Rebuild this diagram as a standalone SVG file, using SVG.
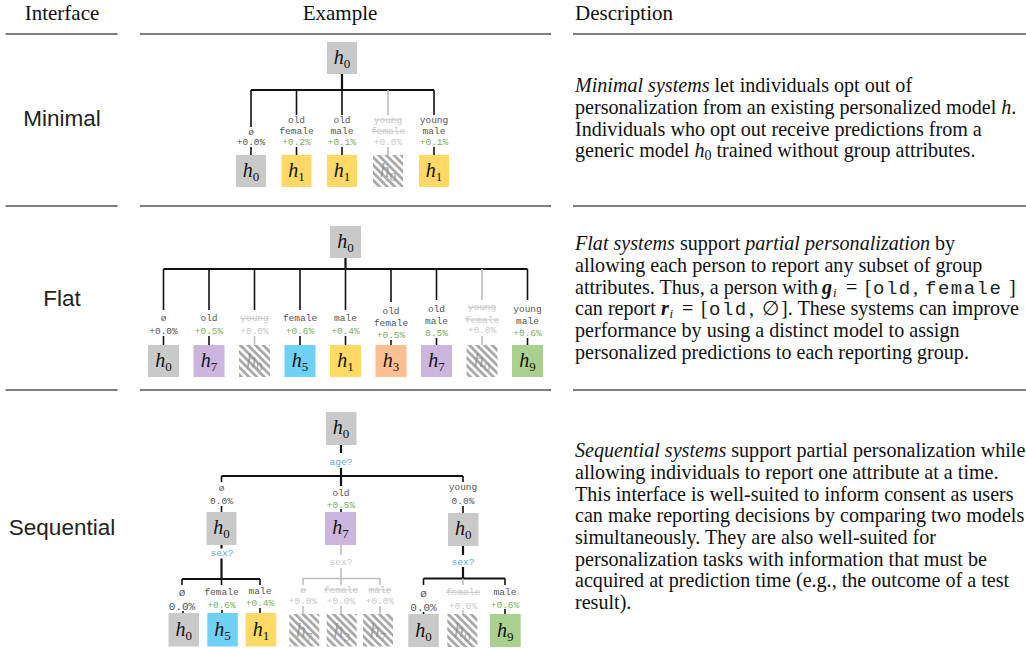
<svg xmlns="http://www.w3.org/2000/svg" width="1026" height="648" viewBox="0 0 1026 648">
<defs>
<pattern id="hatch" patternUnits="userSpaceOnUse" width="5.4" height="5.4" patternTransform="rotate(-45)">
<rect width="5.4" height="5.4" fill="#fff"/>
<rect width="2.8" height="5.4" fill="#a8a8a8"/>
</pattern>
<style>
.hd{font-family:"Liberation Serif","Times New Roman",serif;font-size:21px;fill:#111}
.rl{stroke:#555;stroke-width:1.3}
.rn{font-family:"Liberation Sans",Arial,sans-serif;font-size:22.5px;fill:#222;text-anchor:middle}
.ds{font-family:"Liberation Serif","Times New Roman",serif;font-size:20.1px;fill:#111}
.tt{font-family:"Liberation Mono","Courier New",monospace;font-size:19px;letter-spacing:1.5px;fill:#222}
.g0{fill:#c9c9c9}.yl{fill:#ffd966}.pu{fill:#cdb6de}.bl{fill:#6fd1f6}.or{fill:#fcbf91}.gn{fill:#a9d08e}.ht{fill:url(#hatch)}
.m{font-family:"Liberation Serif","Times New Roman",serif;font-style:italic;font-size:20px;fill:#111;text-anchor:middle}
.mf{font-family:"Liberation Serif","Times New Roman",serif;font-style:italic;font-size:20px;fill:#8a8a8a;opacity:.75;text-anchor:middle}
.s{font-style:normal;font-size:13px}
.lb{font-family:"Liberation Mono","Courier New",monospace;font-size:9.5px;fill:#555;text-anchor:middle}
.lb2{font-size:11px}
.pg{fill:#7cae5e}.pl{fill:#c8c8c8}.x{fill:#c8c8c8;text-decoration:line-through}.q{fill:#5ba7df}.qg{fill:#c8c8c8}
.k{stroke:#111;stroke-width:1.6;fill:none}
.kt{stroke:#111;stroke-width:2.2;fill:none}
.kg{stroke:#bdbdbd;stroke-width:1.6;fill:none}
.bi{font-style:italic;font-weight:bold}
.sb{font-style:italic;font-size:13px}
</style>
</defs>
<rect width="1026" height="648" fill="#fff"/>

<g id="table">
<text class="hd" x="62" y="20" text-anchor="middle">Interface</text>
<text class="hd" x="340" y="20" text-anchor="middle">Example</text>
<text class="hd" x="575" y="20">Description</text>
<path class="rl" d="M5.5 34H117.5M140 34H551M573 34H1026M5.5 206H117.5M140 206H551M573 206H1026M5.5 390H117.5M140 390H551M573 390H1026"/>
<text class="rn" x="62" y="126">Minimal</text>
<text class="rn" x="62" y="306">Flat</text>
<text class="rn" x="62" y="535">Sequential</text>
</g>

<g id="connectors">
<path class="kt" d="M342 74V90M251 90H434"/>
<path class="k" d="M251 90V127M296.5 90V115M342 90V115M434 90V115M251 147V155M296.5 147V155M342 147V155M434 147V155"/>
<path class="kg" d="M388 90V115M388 147V155"/>
<path class="kt" d="M345.5 258V269M163.5 269H527.5"/>
<path class="k" d="M163.5 269V310M209 269V310M254.5 269V310M300 269V310M345.5 269V310M391 269V302M436.5 269V300M527.5 269V300M163.5 336V345M209 336V345M300 336V345M345.5 336V345M391 340V345M436.5 338V345M527.5 338V345"/>
<path class="kg" d="M482 269V300M482 336V345M254.5 336V345"/>
<path class="kt" d="M341 445V453M341 468V486M221.5 476H463"/>
<path class="k" d="M221.5 476V482M463 476V482M221.5 506V512M341 509V512M463 506V513"/>
<path class="kt" d="M221.5 545V548.5M221.5 558.5V579M182 579H260"/>
<path class="k" d="M182 579V585M221.5 579V585M260 579V585M183 611V613M222 610V613M260 608V613"/>
<path class="kg" d="M341 545V555M341 568V578.5M303 578.5H380M303 578.5V585M341 578.5V585M380 578.5V585M303 606V614M341 606V614M380 606V614"/>
<path class="kt" d="M463 546V555M463 567V578.5M423.5 578.5H505"/>
<path class="k" d="M423.5 578.5V585M505 578.5V585M505 609V614M423.5 612V614"/>
<path class="kg" d="M463 578.5V585M463 610V614"/>
</g>

<g id="min-root"><rect class="g0" x="327" y="42" width="30" height="32"/><text class="m" x="342" y="64">h<tspan class="s" dy="4">0</tspan></text></g>
<g id="min-c1"><text class="lb" x="251" y="134.5">ø</text><text class="lb" x="251" y="145">+0.0%</text><rect class="g0" x="236" y="155" width="30" height="32"/><text class="m" x="251" y="177">h<tspan class="s" dy="4">0</tspan></text></g>
<g id="min-c2"><text class="lb" x="296.5" y="122.5">old</text><text class="lb" x="296.5" y="134">female</text><text class="lb pg" x="296.5" y="145">+0.2%</text><rect class="yl" x="281.5" y="155" width="30" height="32"/><text class="m" x="296.5" y="177">h<tspan class="s" dy="4">1</tspan></text></g>
<g id="min-c3"><text class="lb" x="342" y="122.5">old</text><text class="lb" x="342" y="134">male</text><text class="lb pg" x="342" y="145">+0.1%</text><rect class="yl" x="327" y="155" width="30" height="32"/><text class="m" x="342" y="177">h<tspan class="s" dy="4">1</tspan></text></g>
<g id="min-c4"><text class="lb x" x="388" y="122.5">young</text><text class="lb x" x="388" y="134">female</text><text class="lb pl" x="388" y="145">+0.0%</text><rect class="ht" x="373" y="155" width="30" height="32"/><text class="mf" x="388" y="177">h<tspan class="s" dy="4">0</tspan></text></g>
<g id="min-c5"><text class="lb" x="434" y="122.5">young</text><text class="lb" x="434" y="134">male</text><text class="lb pg" x="434" y="145">+0.1%</text><rect class="yl" x="419" y="155" width="30" height="32"/><text class="m" x="434" y="177">h<tspan class="s" dy="4">1</tspan></text></g>

<g id="flat-root"><rect class="g0" x="330" y="226" width="31" height="32"/><text class="m" x="345.5" y="248">h<tspan class="s" dy="4">0</tspan></text></g>
<g id="flat-c1"><text class="lb" x="163.5" y="321">ø</text><text class="lb" x="163.5" y="333.5">+0.0%</text><rect class="g0" x="148" y="345" width="31" height="32"/><text class="m" x="163.5" y="367">h<tspan class="s" dy="4">0</tspan></text></g>
<g id="flat-c2"><text class="lb" x="209" y="321">old</text><text class="lb pg" x="209" y="333.5">+0.5%</text><rect class="pu" x="193.5" y="345" width="31" height="32"/><text class="m" x="209" y="367">h<tspan class="s" dy="4">7</tspan></text></g>
<g id="flat-c3"><text class="lb x" x="254.5" y="321">young</text><text class="lb pl" x="254.5" y="333.5">+0.0%</text><rect class="ht" x="239" y="345" width="31" height="32"/><text class="mf" x="254.5" y="367">h<tspan class="s" dy="4">0</tspan></text></g>
<g id="flat-c4"><text class="lb" x="300" y="321">female</text><text class="lb pg" x="300" y="333.5">+0.6%</text><rect class="bl" x="284.5" y="345" width="31" height="32"/><text class="m" x="300" y="367">h<tspan class="s" dy="4">5</tspan></text></g>
<g id="flat-c5"><text class="lb" x="345.5" y="321">male</text><text class="lb pg" x="345.5" y="333.5">+0.4%</text><rect class="yl" x="330" y="345" width="31" height="32"/><text class="m" x="345.5" y="367">h<tspan class="s" dy="4">1</tspan></text></g>
<g id="flat-c6"><text class="lb" x="391" y="313.5">old</text><text class="lb" x="391" y="326">female</text><text class="lb pg" x="391" y="338">+0.5%</text><rect class="or" x="375.5" y="345" width="31" height="32"/><text class="m" x="391" y="367">h<tspan class="s" dy="4">3</tspan></text></g>
<g id="flat-c7"><text class="lb" x="436.5" y="311.5">old</text><text class="lb" x="436.5" y="324">male</text><text class="lb pg" x="436.5" y="336">0.5%</text><rect class="pu" x="421" y="345" width="31" height="32"/><text class="m" x="436.5" y="367">h<tspan class="s" dy="4">7</tspan></text></g>
<g id="flat-c8"><text class="lb x" x="482" y="310">young</text><text class="lb x" x="482" y="322.5">female</text><text class="lb pl" x="482" y="333">+0.0%</text><rect class="ht" x="466.5" y="345" width="31" height="32"/><text class="mf" x="482" y="367">h<tspan class="s" dy="4">0</tspan></text></g>
<g id="flat-c9"><text class="lb" x="527.5" y="311.5">young</text><text class="lb" x="527.5" y="324">male</text><text class="lb pg" x="527.5" y="336">+0.6%</text><rect class="gn" x="512" y="345" width="31" height="32"/><text class="m" x="527.5" y="367">h<tspan class="s" dy="4">9</tspan></text></g>

<g id="seq-root"><rect class="g0" x="326" y="412" width="30.5" height="33"/><text class="m" x="341" y="434">h<tspan class="s" dy="4">0</tspan></text><text class="lb q" x="341" y="464.5">age?</text></g>
<g id="seq-none"><text class="lb" x="221.5" y="490.5">ø</text><text class="lb" x="221.5" y="503.5">0.0%</text><rect class="g0" x="206.5" y="512" width="30" height="33"/><text class="m" x="221.5" y="534">h<tspan class="s" dy="4">0</tspan></text><text class="lb q" x="222" y="555.5">sex?</text></g>
<g id="seq-old"><text class="lb" x="341" y="495.5">old</text><text class="lb pg" x="341" y="507.5">+0.5%</text><rect class="pu" x="325" y="512" width="31" height="33"/><text class="m" x="340.5" y="534">h<tspan class="s" dy="4">7</tspan></text><text class="lb qg" x="341" y="565">sex?</text></g>
<g id="seq-young"><text class="lb" x="463" y="490">young</text><text class="lb" x="463" y="503.5">0.0%</text><rect class="g0" x="448" y="513" width="30.5" height="33"/><text class="m" x="463.3" y="535">h<tspan class="s" dy="4">0</tspan></text><text class="lb q" x="463" y="564.5">sex?</text></g>

<g id="seq-n-none"><text class="lb lb2" x="182" y="595.5">ø</text><text class="lb lb2" x="182" y="609.5">0.0%</text><rect class="g0" x="168.5" y="613" width="30.5" height="33.5"/><text class="m" x="183.7" y="636">h<tspan class="s" dy="4">0</tspan></text></g>
<g id="seq-n-female"><text class="lb" x="221.5" y="595">female</text><text class="lb pg" x="221.5" y="608.4">+0.6%</text><rect class="bl" x="207.3" y="613" width="30.5" height="33.5"/><text class="m" x="222.5" y="636">h<tspan class="s" dy="4">5</tspan></text></g>
<g id="seq-n-male"><text class="lb" x="260" y="594">male</text><text class="lb pg" x="260" y="606.1">+0.4%</text><rect class="yl" x="245.7" y="613" width="30.5" height="33.5"/><text class="m" x="261" y="636">h<tspan class="s" dy="4">1</tspan></text></g>

<g id="seq-o-none"><text class="lb x" x="303" y="592.5">ø</text><text class="lb pl" x="303" y="604">+0.0%</text><rect class="ht" x="289.3" y="614" width="30" height="32.5"/><text class="mf" x="304.3" y="637">h<tspan class="s" dy="4">7</tspan></text></g>
<g id="seq-o-female"><text class="lb x" x="341" y="592.5">female</text><text class="lb pl" x="341" y="604">+0.0%</text><rect class="ht" x="326.7" y="614" width="30" height="32.5"/><text class="mf" x="341.7" y="637">h<tspan class="s" dy="4">3</tspan></text></g>
<g id="seq-o-male"><text class="lb x" x="380" y="592.5">male</text><text class="lb pl" x="380" y="604">+0.0%</text><rect class="ht" x="363" y="614" width="30" height="32.5"/><text class="mf" x="378" y="637">h<tspan class="s" dy="4">7</tspan></text></g>

<g id="seq-y-none"><text class="lb lb2" x="423.5" y="596.5">ø</text><text class="lb lb2" x="423.5" y="611">0.0%</text><rect class="g0" x="408.3" y="614" width="30.5" height="33"/><text class="m" x="423.6" y="637">h<tspan class="s" dy="4">0</tspan></text></g>
<g id="seq-y-female"><text class="lb x" x="463" y="595">female</text><text class="lb pl" x="463" y="608.5">+0.0%</text><rect class="ht" x="447.3" y="614" width="30" height="33"/><text class="mf" x="462.3" y="637">h<tspan class="s" dy="4">0</tspan></text></g>
<g id="seq-y-male"><text class="lb" x="505" y="594.5">male</text><text class="lb pg" x="505" y="607.5">+0.6%</text><rect class="gn" x="490" y="614" width="30.7" height="33"/><text class="m" x="505.3" y="637">h<tspan class="s" dy="4">9</tspan></text></g>

<g id="desc-minimal">
<text class="ds" x="575" y="92"><tspan font-style="italic">Minimal systems</tspan> let individuals opt out of</text>
<text class="ds" x="575" y="114">personalization from an existing personalized model <tspan font-style="italic">h</tspan>.</text>
<text class="ds" x="575" y="135.5">Individuals who opt out receive predictions from a</text>
<text class="ds" x="575" y="157">generic model <tspan font-style="italic">h</tspan><tspan font-size="14" dy="3">0</tspan><tspan dy="-3"> trained without group attributes.</tspan></text>
</g>
<g id="desc-flat">
<text class="ds" x="575" y="250"><tspan font-style="italic">Flat systems</tspan> support <tspan font-style="italic">partial personalization</tspan> by</text>
<text class="ds" x="575" y="272">allowing each person to report any subset of group</text>
<text class="ds" x="575" y="293.5">attributes. Thus, a person with<tspan class="bi" x="822">g</tspan><tspan class="sb" x="833" dy="3">i</tspan><tspan x="846" dy="-3">=</tspan><tspan x="865">[</tspan><tspan class="tt" x="873">old</tspan><tspan x="913">,</tspan><tspan class="tt" x="925">female</tspan><tspan x="1009">]</tspan></text>
<text class="ds" x="575" y="315">can report<tspan class="bi" x="661">r</tspan><tspan class="sb" x="669.5" dy="3">i</tspan><tspan x="682" dy="-3">=</tspan><tspan x="701">[</tspan><tspan class="tt" x="709">old</tspan><tspan x="749">,</tspan><tspan x="762">∅</tspan><tspan x="781">]. These systems can improve</tspan></text>
<text class="ds" x="575" y="337">performance by using a distinct model to assign</text>
<text class="ds" x="575" y="358.5">personalized predictions to each reporting group.</text>
</g>
<g id="desc-sequential">
<text class="ds" x="575" y="457"><tspan font-style="italic">Sequential systems</tspan> support partial personalization while</text>
<text class="ds" x="575" y="479">allowing individuals to report one attribute at a time.</text>
<text class="ds" x="575" y="500.5">This interface is well-suited to inform consent as users</text>
<text class="ds" x="575" y="522">can make reporting decisions by comparing two models</text>
<text class="ds" x="575" y="544">simultaneously. They are also well-suited for</text>
<text class="ds" x="575" y="565.5">personalization tasks with information that must be</text>
<text class="ds" x="575" y="587">acquired at prediction time (e.g., the outcome of a test</text>
<text class="ds" x="575" y="609">result).</text>
</g>
</svg>
